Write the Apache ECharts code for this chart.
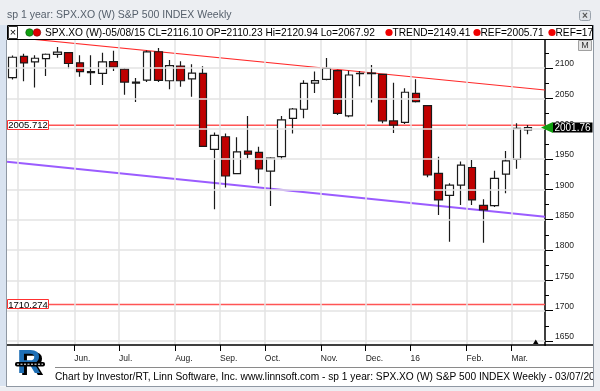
<!DOCTYPE html>
<html><head><meta charset="utf-8">
<script src="https://cdn.jsdelivr.net/npm/echarts@6/dist/echarts.min.js"></script>
<style>html,body{margin:0;padding:0;background:#fff}#c{width:600px;height:391px}</style>
</head><body><div id="c"></div>
<script>
// ---------------- data ----------------
const dates = ['04/24/15','05/01/15','05/08/15','05/15/15','05/22/15','05/29/15','06/05/15','06/12/15','06/19/15','06/26/15','07/03/15','07/10/15','07/17/15','07/24/15','07/31/15','08/07/15','08/14/15','08/21/15','08/28/15','09/04/15','09/11/15','09/18/15','09/25/15','10/02/15','10/09/15','10/16/15','10/23/15','10/30/15','11/06/15','11/13/15','11/20/15','11/27/15','12/04/15','12/11/15','12/18/15','12/25/15','01/01/16','01/08/16','01/15/16','01/22/16','01/29/16','02/05/16','02/12/16','02/19/16','02/26/16','03/04/16','03/11/16'];
const opens = [2084,2119.3,2110.23,2115.6,2122.3,2125.3,2108.6,2092.3,2091.3,2110.6,2098,2075,2080,2126.8,2079,2103.3,2082,2091,1966,1986.7,1926,1963,1961,1930,1954,2017,2032,2075,2081.4,2095.6,2021,2090.5,2090.8,2089.6,2012.7,2010.5,2058.3,2038,1926.4,1890,1907,1936,1873.7,1873,1925,1949.5,1997.8];
const closes = [2117.7,2108.3,2116.10,2122.7,2126.1,2107.4,2094,2094.1,2110,2101.5,2076.8,2076.6,2126.6,2079.7,2103.8,2079,2091.5,1970.9,1988.9,1922,1961.6,1958,1933.5,1951.4,2014.5,2032.4,2074.8,2079.2,2099.5,2025.3,2088.5,2091,2091.5,2013,2006,2060,2044.5,1923.6,1882.5,1907,1940,1882.5,1866,1918,1947,2000.6,2001.76];
const lows = [2081,2078,2067.92,2087,2117,2099,2085.7,2072,2072,2095,2056,2044,2077,2077,2065,2069,2052.5,1970,1867,1903,1925,1951,1910,1872.6,1949,1992,2017,2058.6,2080,2022.5,2019,2070,2043,2009,1993,2007.7,2043,1920,1857.7,1813.8,1874.2,1874,1812,1871,1893.5,1934,1991];
const highs = [2120.5,2123.5,2120.94,2124,2134.7,2126.2,2121,2121,2125,2128.5,2100,2083.5,2129,2132.8,2113,2111,2106,2103,1993.5,1992,1986,2020.9,1970,1953,2021,2034,2079.7,2094.3,2116.5,2097,2095.6,2095,2105,2090.5,2075.8,2066.5,2081.4,2038.5,1953.8,1910,1946,1948.4,1883.6,1930.7,1963,2009,2006];
const trendUpper = [2151.5, 2063.7];   // value at left edge, right edge
const trendLower = [1945.6, 1854.9];
const refLevels = [2005.712, 1710.274];
const refLabels = ['2005.712', '1710.274'];
const monthLabels = ['Jun.','Jul.','Aug.','Sep.','Oct.','Nov.','Dec.','16','Feb.','Mar.'];
const yTicks = [1650,1700,1750,1800,1850,1900,1950,2000,2050,2100];
const legendText = 'SPX.XO (W)-05/08/15 CL=2116.10 OP=2110.23 Hi=2120.94 Lo=2067.92';
const legendItems = ['TREND=2149.41', 'REF=2005.71', 'REF=1710.27'];
const titleText = 'sp 1 year: SPX.XO (W) S&P 500 INDEX Weekly';
const footerText = 'Chart by Investor/RT, Linn Software, Inc. www.linnsoft.com - sp 1 year: SPX.XO (W) S&P 500 INDEX Weekly - 03/07/2016';

// ---------------- build ----------------
const FONT = 'Liberation Sans, Arial, sans-serif';
// axis range (multiples of the interval); the visible plot is cut at y=345 by the x axis
const Y_MIN = 1600, Y_MAX = 2150, Y_STEP = 50;
const PX_PER_UNIT = 0.6067;
const GRID_TOP = 68 - (Y_MAX - 2100) * PX_PER_UNIT;
const GRID_BOTTOM_PX = 68 + (2100 - Y_MIN) * PX_PER_UNIT;
const AXIS_Y = 345;
const cats = dates.concat(['']);
const X_MAX = cats.length - 0.5;
const candleData = dates.map((d, i) => [opens[i], closes[i], lows[i], highs[i]]);
const bounds = [];
for (let i = 1; i < dates.length; i++) {
  if (dates[i].slice(0, 2) !== dates[i - 1].slice(0, 2)) bounds.push(i);
}
const tickVals = bounds.slice(1).map(b => b - 0.5);
const gridMarks = bounds.map(b => ({xAxis: b - 0.5})).concat(yTicks.map(v => ({yAxis: v})));

const chart = echarts.init(document.getElementById('c'), null, {renderer: 'canvas', width: 600, height: 391});

function lineSeries(vals, color, width, extra) {
  return Object.assign({
    type: 'line', xAxisIndex: 1, yAxisIndex: 0, symbol: 'none', silent: true, animation: false,
    data: [[-0.5, vals[0]], [X_MAX, vals[1]]],
    lineStyle: {color: color, width: width}, clip: true, z: 1
  }, extra || {});
}

chart.setOption({
  backgroundColor: '#ffffff',
  animation: false,
  grid: {left: 7, top: GRID_TOP, right: 55, bottom: 391 - GRID_BOTTOM_PX},
  xAxis: [
    {
      type: 'category', data: cats, position: 'top', boundaryGap: true, show: false
    },
    {
      type: 'value', position: 'bottom', min: -0.5, max: X_MAX, z: 6,
      offset: AXIS_Y - GRID_BOTTOM_PX,
      axisLine: {show: true, onZero: false, lineStyle: {color: '#000', width: 1.5}},
      axisTick: {show: true, customValues: tickVals, length: 6, lineStyle: {color: '#000', width: 1}},
      axisLabel: {
        show: true, customValues: tickVals, align: 'left', margin: 9,
        fontSize: 8.5, fontFamily: FONT, color: '#222',
        formatter: (v) => {
          let best = 0, bd = 1e9;
          tickVals.forEach((t, k) => { const d = Math.abs(t - v); if (d < bd) { bd = d; best = k; } });
          return monthLabels[best];
        }
      },
      splitLine: {show: false}
    }
  ],
  yAxis: [
    {
      type: 'value', position: 'right', min: Y_MIN, max: Y_MAX, interval: Y_STEP, z: 0,
      axisLine: {show: true, onZero: false, lineStyle: {color: '#000', width: 1.5}},
      axisTick: {show: true, length: 8, lineStyle: {color: '#000'}},
      minorTick: {show: true, splitNumber: 2, length: 4, lineStyle: {color: '#000'}},
      axisLabel: {show: true, margin: 10, verticalAlign: 'bottom', lineHeight: 8,
        fontSize: 8.5, fontFamily: FONT, color: '#222',
        formatter: (v) => (yTicks.indexOf(v) >= 0 ? String(v) : '')},
      splitLine: {show: false}
    }
  ],
  series: [
    lineSeries(trendUpper, '#ff2a2a', 1.2, {
      markLine: {silent: true, animation: false, symbol: ['none', 'none'], label: {show: false},
        lineStyle: {type: 'solid', color: '#e3e3e3', width: 1.5}, data: gridMarks}
    }),
    lineSeries(trendLower, '#9b5cff', 2),
    lineSeries([refLevels[0], refLevels[0]], '#ff5555', 1.6),
    lineSeries([refLevels[1], refLevels[1]], '#ff5555', 1.6),
    {
      type: 'candlestick', xAxisIndex: 0, yAxisIndex: 0, data: candleData, barWidth: 8, z: 3,
      itemStyle: {color: '#ffffff', color0: '#c00000', borderColor: '#1a1a1a', borderColor0: '#1a1a1a', borderColorDoji: '#1a1a1a', borderWidth: 1.2}
    }
  ]
});

// ---------- decorations (positions from the library's own scales) ----------
const g = [];
const refY = refLevels.map(v => chart.convertToPixel({yAxisIndex: 0}, v));
const lastClose = closes[closes.length - 1];
const priceY = chart.convertToPixel({yAxisIndex: 0}, lastClose);

// cover the part of the value range below the x axis (area of labels / footer)
g.push({type: 'rect', shape: {x: 7, y: AXIS_Y + 0.8, width: 586, height: 391 - AXIS_Y}, style: {fill: '#ffffff'}, z: 5});

// window chrome
g.push({type: 'rect', shape: {x: 0, y: 0, width: 600, height: 25}, style: {fill: '#eceef2'}, z: 10});
g.push({type: 'text', x: 7, y: 15, style: {text: titleText, font: '10.5px ' + FONT, fill: '#56606c', verticalAlign: 'middle'}, z: 11});
g.push({type: 'rect', shape: {x: 579.5, y: 10.5, width: 11, height: 10, r: 2}, style: {fill: '#dfe3e8', stroke: '#9aa2ac', lineWidth: 1}, z: 11});
g.push({type: 'text', x: 585, y: 16, style: {text: '×', font: 'bold 10px ' + FONT, fill: '#555', align: 'center', verticalAlign: 'middle'}, z: 12});
g.push({type: 'rect', shape: {x: 0, y: 25, width: 7, height: 361}, style: {fill: '#d9e3f0'}, z: 10});
g.push({type: 'line', shape: {x1: 6.5, y1: 40, x2: 6.5, y2: 386}, style: {stroke: '#8f98a3', lineWidth: 1}, z: 11});

// legend bar
g.push({type: 'rect', shape: {x: 7.5, y: 25.5, width: 585, height: 14}, style: {fill: '#ffffff', stroke: '#000', lineWidth: 1}, z: 10});
g.push({type: 'rect', shape: {x: 8.5, y: 26.5, width: 9, height: 12}, style: {fill: '#fff', stroke: '#333', lineWidth: 1}, z: 11});
g.push({type: 'text', x: 13, y: 33, style: {text: '×', font: '11px ' + FONT, fill: '#000', align: 'center', verticalAlign: 'middle'}, z: 12});
g.push({type: 'circle', shape: {cx: 29.5, cy: 32.5, r: 3.8}, style: {fill: '#10a010', stroke: '#064006', lineWidth: 0.5}, z: 11});
g.push({type: 'circle', shape: {cx: 37, cy: 32.5, r: 3.8}, style: {fill: '#e00000', stroke: '#600000', lineWidth: 0.5}, z: 11});
g.push({type: 'text', x: 45, y: 33, style: {text: legendText, font: '10.2px ' + FONT, fill: '#000', verticalAlign: 'middle'}, z: 11});
const legendX = [389, 477, 552];
legendItems.forEach((t, k) => {
  g.push({type: 'circle', shape: {cx: legendX[k], cy: 32.5, r: 3.6}, style: {fill: '#f00000'}, z: 11});
  g.push({type: 'text', x: legendX[k] + 3.5, y: 33, style: {text: t, font: '10.2px ' + FONT, fill: '#000', verticalAlign: 'middle'}, z: 11});
});

// M button
g.push({type: 'rect', shape: {x: 578.5, y: 40.5, width: 13, height: 10}, style: {fill: '#e4e4e4', stroke: '#a0a0a0', lineWidth: 1}, z: 11});
g.push({type: 'text', x: 585, y: 45.8, style: {text: 'M', font: '9px ' + FONT, fill: '#333', align: 'center', verticalAlign: 'middle'}, z: 12});

// ref labels
refY.forEach((y, k) => {
  g.push({type: 'rect', shape: {x: 7.5, y: Math.round(y) - 4.5, width: 41, height: 9}, style: {fill: '#fff', stroke: '#ff3030', lineWidth: 1}, z: 11});
  g.push({type: 'text', x: 28, y: y + 0.5, style: {text: refLabels[k], font: '9.5px ' + FONT, fill: '#000', align: 'center', verticalAlign: 'middle'}, z: 12});
});

// current price marker
g.push({type: 'polygon', shape: {points: [[541, priceY], [553, priceY - 5.5], [553, priceY + 5.5]]}, style: {fill: '#11a011'}, z: 11});
g.push({type: 'rect', shape: {x: 553, y: priceY - 5, width: 39.5, height: 10}, style: {fill: '#000'}, z: 11});
g.push({type: 'text', x: 572.5, y: priceY + 0.5, style: {text: lastClose.toFixed(2), font: '10px ' + FONT, fill: '#fff', align: 'center', verticalAlign: 'middle'}, z: 12});

// small marker at bottom right of plot
g.push({type: 'polygon', shape: {points: [[533, 344], [538.5, 344], [535.75, 339.5]]}, style: {fill: '#000'}, z: 11});
// bottom line extension under the price axis
g.push({type: 'line', shape: {x1: 545, y1: AXIS_Y, x2: 593, y2: AXIS_Y}, style: {stroke: '#000', lineWidth: 1.5}, z: 11});

// footer
g.push({type: 'line', shape: {x1: 55, y1: 367.5, x2: 593, y2: 367.5}, style: {stroke: '#8a8a8a', lineWidth: 1}, z: 11});
g.push({type: 'text', x: 55, y: 377.5, style: {text: footerText, font: '10.2px ' + FONT, fill: '#000', verticalAlign: 'middle'}, z: 11});

// logo
g.push({type: 'text', x: 20, y: 349, style: {text: 'R', font: 'bold 33px ' + FONT, fill: '#000'}, z: 11});
g.push({type: 'text', x: 17, y: 347, style: {text: 'R', font: 'bold 33px ' + FONT, fill: '#1f6fb5'}, z: 12});
g.push({type: 'rect', shape: {x: 15, y: 362, width: 30, height: 4.5, r: 2}, style: {fill: '#000'}, z: 13});
g.push({type: 'line', shape: {x1: 17, y1: 364.2, x2: 43, y2: 364.2}, style: {stroke: '#fff', lineWidth: 1, lineDash: [2, 1.5]}, z: 14});

// right and bottom frame (drawn on top, clips overflowing text)
g.push({type: 'rect', shape: {x: 593, y: 25, width: 7, height: 366}, style: {fill: '#eceef2'}, z: 20});
g.push({type: 'line', shape: {x1: 593.5, y1: 25, x2: 593.5, y2: 387}, style: {stroke: '#8f98a3', lineWidth: 1}, z: 21});
g.push({type: 'line', shape: {x1: 592.5, y1: 25.5, x2: 592.5, y2: 39.5}, style: {stroke: '#000', lineWidth: 1}, z: 22});
g.push({type: 'rect', shape: {x: 0, y: 386.5, width: 600, height: 5}, style: {fill: '#eceef2'}, z: 20});
g.push({type: 'line', shape: {x1: 6, y1: 386.5, x2: 594, y2: 386.5}, style: {stroke: '#8f98a3', lineWidth: 1}, z: 21});

chart.setOption({graphic: {elements: g}});
</script>
</body></html>
